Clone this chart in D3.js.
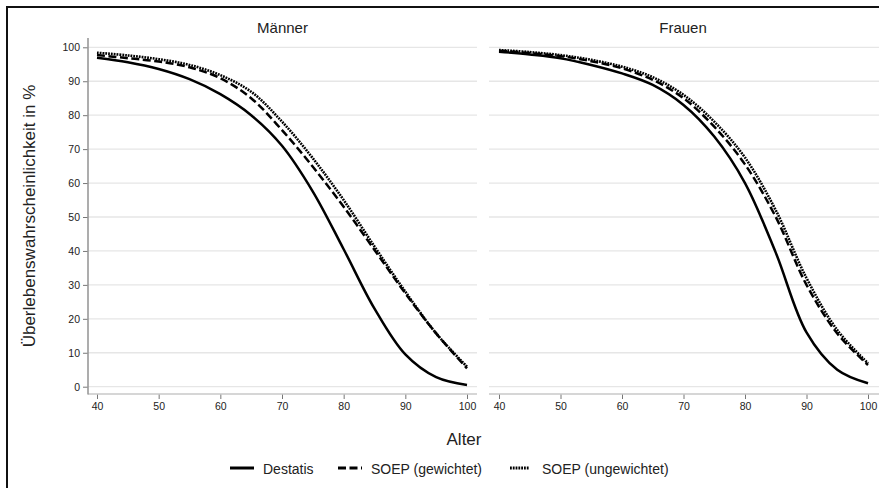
<!DOCTYPE html>
<html>
<head>
<meta charset="utf-8">
<script src="https://cdn.jsdelivr.net/npm/d3@7"></script>
<style>
  body { margin: 0; background: #fff; }
  svg { display: block; font-family: "Liberation Sans", Arial, sans-serif; }
</style>
</head>
<body>
<script>
// Überlebenswahrscheinlichkeit nach Alter
const ages = [40, 45, 50, 55, 60, 65, 70, 75, 80, 85, 90, 95, 100];

const menDestatis   = [96.9, 95.6, 93.6, 90.6, 86.2, 80.0, 71.0, 57.5, 40.5, 23.0, 9.5, 2.8, 0.5];
const menWeighted   = [97.7, 96.8, 95.8, 94.1, 90.9, 85.0, 75.6, 64.8, 53.0, 40.3, 27.5, 15.7, 5.4];
const menUnweighted = [98.4, 97.6, 96.5, 94.8, 91.8, 86.9, 78.1, 67.3, 55.0, 41.3, 28.0, 15.7, 5.9];

const womenDestatis   = [98.7, 97.9, 96.8, 94.8, 92.3, 88.9, 83.0, 73.7, 60.0, 39.5, 16.0, 5.0, 1.0];
const womenWeighted   = [99.0, 98.3, 97.4, 95.9, 93.8, 90.4, 85.0, 76.6, 65.5, 50.0, 30.0, 15.7, 6.4];
const womenUnweighted = [99.2, 98.6, 97.7, 96.3, 94.3, 91.2, 86.0, 78.1, 67.5, 52.0, 32.0, 16.7, 6.9];

const panelTitles = ["Männer", "Frauen"];
const seriesNames = ["Destatis", "SOEP (gewichtet)", "SOEP (ungewichtet)"];
const xTicks = [40, 50, 60, 70, 80, 90, 100];
const yTicks = [0, 10, 20, 30, 40, 50, 60, 70, 80, 90, 100];

const panels = [
  { title: panelTitles[0], series: [menDestatis, menWeighted, menUnweighted] },
  { title: panelTitles[1], series: [womenDestatis, womenWeighted, womenUnweighted] }
];

// line styles per series
const dash = ["none", "8,3.5", "1.8,1"];

const w = 879;
const h = 488;
const svg = d3.select("body")
  .append("svg")
  .attr("width", w)
  .attr("height", h);

svg.append("rect")
  .attr("x", 7).attr("y", 7)
  .attr("width", 900).attr("height", 500)
  .attr("fill", "none")
  .attr("stroke", "#111")
  .attr("stroke-width", 2);

const y = d3.scaleLinear().domain([0, 100]).range([386.7, 47.3]);

const panelBox = [
  { x0: 88, x1: 477, range: [97, 467], yAxis: true },
  { x0: 489, x1: 879, range: [499, 868], yAxis: false }
];

panels.forEach((p, i) => {
  const box = panelBox[i];
  const x = d3.scaleLinear().domain([40, 100]).range(box.range);
  const g = svg.append("g");

  // grid
  g.selectAll(".grid")
    .data(yTicks)
    .enter()
    .append("line")
    .attr("x1", box.x0).attr("x2", box.x1)
    .attr("y1", d => y(d)).attr("y2", d => y(d))
    .attr("stroke", "#e6e6e6")
    .attr("stroke-width", 1.3);

  // x axis
  const xAxis = g.append("g")
    .attr("transform", "translate(0,394)")
    .call(d3.axisBottom(x).tickValues(xTicks).tickSize(5).tickPadding(4).tickSizeOuter(0));
  xAxis.select(".domain").remove();
  xAxis.append("line")
    .attr("x1", box.x0).attr("x2", box.x1)
    .attr("stroke", "#c8c8c8").attr("stroke-width", 1.3);
  xAxis.selectAll(".tick line").attr("stroke", "#777");
  xAxis.selectAll(".tick text")
    .attr("fill", "#222")
    .style("font-size", "10.5px")
    .style("font-family", "Liberation Sans, Arial, sans-serif");

  if (box.yAxis) {
    const yAxis = g.append("g")
      .attr("transform", "translate(88,0)")
      .call(d3.axisLeft(y).tickValues(yTicks).tickSize(5).tickPadding(3).tickSizeOuter(0));
    yAxis.select(".domain").remove();
    yAxis.append("line")
      .attr("y1", 38).attr("y2", 394.5)
      .attr("stroke", "#999").attr("stroke-width", 1.6);
    yAxis.selectAll(".tick line").attr("stroke", "#777");
    yAxis.selectAll(".tick text")
      .attr("fill", "#222")
      .style("font-size", "10.5px")
      .style("font-family", "Liberation Sans, Arial, sans-serif");
  }

  g.append("text")
    .attr("x", (box.x0 + box.x1) / 2 - (i ? 1 : 0))
    .attr("y", 33)
    .attr("text-anchor", "middle")
    .attr("fill", "#222")
    .style("font-size", "15px")
    .text(p.title);

  const line = d3.line()
    .x((d, k) => x(ages[k]))
    .y(d => y(d))
    .curve(d3.curveCatmullRom.alpha(0.5));

  g.selectAll(".series")
    .data(p.series)
    .enter()
    .append("path")
    .attr("d", line)
    .attr("fill", "none")
    .attr("stroke", "#000")
    .attr("stroke-width", (d, k) => k === 2 ? 2.6 : 2.5)
    .attr("stroke-dasharray", (d, k) => dash[k]);
});

// axis titles
svg.append("text")
  .attr("transform", "translate(35,216) rotate(-90)")
  .attr("text-anchor", "middle")
  .attr("fill", "#222")
  .style("font-size", "17px")
  .text("Überlebenswahrscheinlichkeit in %");

svg.append("text")
  .attr("x", 464)
  .attr("y", 445)
  .attr("text-anchor", "middle")
  .attr("fill", "#222")
  .style("font-size", "17px")
  .text("Alter");

// legend
const legendX = [230, 338, 510];
const legendLen = [24, 24, 19];
const legend = svg.selectAll(".legend")
  .data(seriesNames)
  .enter()
  .append("g")
  .attr("transform", (d, k) => `translate(${legendX[k]},468)`);

legend.append("line")
  .attr("x1", 0)
  .attr("x2", (d, k) => legendLen[k])
  .attr("stroke", "#000")
  .attr("stroke-width", 3)
  .attr("stroke-dasharray", (d, k) => dash[k]);

legend.append("text")
  .attr("x", (d, k) => legendLen[k] + (k === 2 ? 13 : 9))
  .attr("y", 6)
  .attr("fill", "#222")
  .style("font-size", "14px")
  .text(d => d);
</script>
</body>
</html>
